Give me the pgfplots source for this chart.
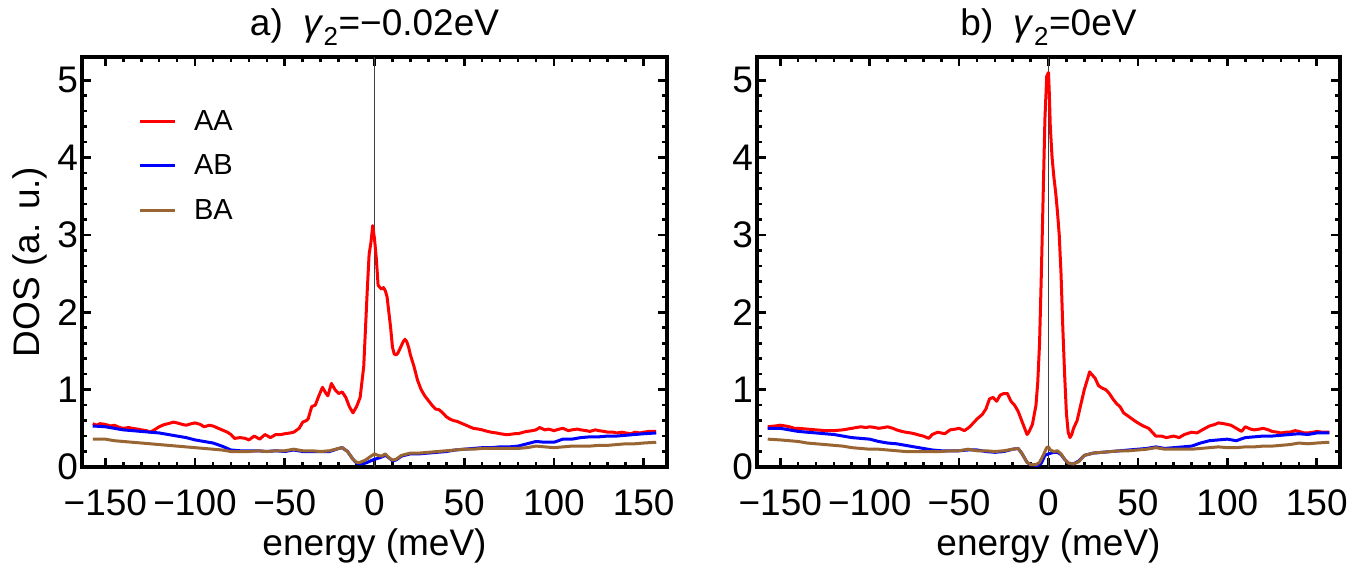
\documentclass[border=0pt]{standalone}
\usepackage{fontspec}
\setmainfont{Liberation Sans}
\usepackage{pgfplots}
\pgfplotsset{compat=1.18}
\definecolor{mbrown}{rgb}{0.6,0.4,0.2}
\newcommand{\tfont}{\fontsize{37}{40}\selectfont}
\begin{document}
\begin{tikzpicture}
\useasboundingbox (0,0) rectangle (1350pt,573pt);
\pgfplotsset{
  dosaxis/.style={
    scale only axis, height=410pt,
    xmin=-163, xmax=163, ymin=0, ymax=5.3,
    line width=3.2pt,
    xtick={-150,-100,...,150},
    xticklabels={−150,−100,−50,0,50,100,150},
    ytick={0,1,2,3,4,5},
    yticklabels={0,1,2,3,4,5},
    minor x tick num=4, minor y tick num=4,
    tick align=inside,
    major tick length=9pt, minor tick length=5pt,
    every tick/.append style={black, line width=2.8pt},
    major tick style={black, line width=2.8pt},
    minor tick style={black, line width=2.6pt},
    axis line style={line width=3.2pt},
    every outer x axis line/.append style={line width=3.2pt},
    every outer y axis line/.append style={line width=3.2pt},
    tick label style={font=\tfont},
    xticklabel style={yshift=-18pt},
    yticklabel style={xshift=1pt},
    label style={font=\tfont},
    title style={font=\tfont},
    every axis title/.style={at={(axis description cs:0.5,1)}, anchor=center, yshift=30pt, font=\tfont},
    every axis x label/.style={at={(axis description cs:0.5,0)}, anchor=center, yshift=-79pt, font=\tfont},
    every axis y label/.style={at={(axis description cs:-0.0889,0.5)}, rotate=90, anchor=center, font=\tfont},
    extra x ticks={0}, extra x tick labels={},
    extra x tick style={grid=major, major grid style={black!75, line width=0.9pt}, major tick length=0pt},
    every axis plot/.append style={line width=3pt, line join=round},
    legend image code/.code={\draw[#1, line width=2.6pt] (0pt,0pt) -- (35pt,0pt);},
  }
}
% ---------------- panel a ----------------
\begin{axis}[dosaxis, width=585pt, at={(82pt,106pt)}, anchor=south west,
  title={a)\ \ \textit{γ}\textsubscript{2}=−0.02eV},
  xlabel={energy (meV)}, ylabel={DOS (a. u.)},
  legend cell align=left,
  legend style={draw=none, fill=none, at={(0.0886,0.883)}, anchor=north west,
    font=\fontsize{29}{31}\selectfont, row sep=19pt,
    /tikz/every odd column/.append style={column sep=16pt}},
]
\addplot[red] coordinates {
(-157,0.56) (-155,0.54) (-153,0.56) (-150,0.55) (-147,0.53) (-145,0.54) (-142,0.51) (-140,0.50) (-137,0.51) (-135,0.50) (-132,0.49) (-130,0.48) (-127,0.47) (-125,0.45)
(-122,0.49) (-120,0.52) (-117,0.55) (-115,0.56) (-112,0.58) (-110,0.57) (-107,0.55) (-105,0.54) (-102,0.56) (-100,0.57) (-97,0.55) (-95,0.52)
(-92,0.54) (-90,0.53) (-87,0.50) (-85,0.48) (-82,0.45) (-80,0.42) (-78,0.37) (-75,0.38) (-72,0.37) (-70,0.35) (-67,0.40) (-64,0.36) (-61,0.42)
(-58,0.38) (-55,0.42) (-52,0.42) (-50,0.43) (-47,0.44) (-45,0.45) (-42,0.50) (-40,0.58) (-38,0.60) (-37,0.62) (-35,0.78) (-33,0.80) (-31,0.92)
(-29,1.03) (-27,0.95) (-26,0.92) (-24,1.08) (-22,1.00) (-20,0.95) (-18,0.97) (-16,0.90) (-14,0.78) (-12,0.70) (-10,0.78) (-8,0.90)
(-7,1.10) (-6,1.30) (-5,1.80) (-4,2.30) (-3,2.75) (-2,2.90) (-1,3.12) (0,2.95) (1,2.70) (2,2.35) (3,2.32) (4,2.30) (5,2.32) (6,2.28)
(7,2.20) (8,2.00) (9,1.80) (10,1.55) (11,1.46) (12,1.45) (13,1.47) (14,1.52) (16,1.62) (17,1.65) (18,1.62) (19,1.55) (20,1.45)
(22,1.30) (24,1.12) (26,1.00) (28,0.92) (30,0.86) (32,0.80) (34,0.75) (36,0.74) (38,0.70) (40,0.65) (42,0.62) (44,0.60) (46,0.59)
(48,0.57) (50,0.55) (53,0.52) (55,0.50) (58,0.49) (60,0.48) (63,0.46) (65,0.45) (68,0.44) (70,0.43) (73,0.42) (75,0.42) (78,0.43) (80,0.43)
(83,0.45) (85,0.46) (88,0.47) (90,0.48) (92,0.51) (95,0.48) (97,0.49) (100,0.47) (103,0.49) (105,0.50) (108,0.47) (110,0.48) (113,0.49)
(115,0.48) (118,0.47) (120,0.46) (123,0.48) (125,0.47) (128,0.46) (130,0.45) (133,0.45) (135,0.44) (138,0.45) (140,0.44) (143,0.43)
(145,0.45) (148,0.44) (150,0.45) (153,0.46) (157,0.46)
};
\addlegendentry{AA}
\addplot[blue] coordinates {
(-157,0.53) (-150,0.52) (-145,0.50) (-140,0.48) (-135,0.47) (-130,0.46) (-125,0.45) (-120,0.44) (-115,0.42) (-110,0.40) (-105,0.38)
(-100,0.35) (-95,0.33) (-90,0.31) (-85,0.27) (-80,0.22) (-75,0.21) (-70,0.21) (-65,0.21) (-60,0.20) (-55,0.21) (-50,0.20) (-45,0.22)
(-40,0.20) (-35,0.20) (-30,0.20) (-25,0.20) (-20,0.24) (-18,0.25) (-15,0.20) (-12,0.10) (-10,0.05) (-8,0.04) (-5,0.05) (-2,0.08)
(0,0.10) (3,0.12) (6,0.15) (8,0.12) (10,0.08) (12,0.09) (15,0.14) (20,0.17) (25,0.17) (30,0.18) (35,0.19) (40,0.20) (45,0.22) (50,0.23)
(55,0.24) (60,0.25) (65,0.25) (70,0.26) (75,0.26) (80,0.27) (85,0.30) (90,0.33) (95,0.32) (100,0.32) (105,0.36) (110,0.36) (115,0.38)
(120,0.39) (125,0.39) (130,0.40) (135,0.40) (140,0.41) (145,0.42) (150,0.43) (157,0.44)
};
\addlegendentry{AB}
\addplot[mbrown] coordinates {
(-157,0.36) (-150,0.36) (-145,0.34) (-140,0.33) (-135,0.32) (-130,0.31) (-125,0.30) (-120,0.29) (-115,0.28) (-110,0.27) (-105,0.26)
(-100,0.25) (-95,0.24) (-90,0.23) (-85,0.22) (-80,0.20) (-75,0.20) (-70,0.20) (-65,0.21) (-60,0.20) (-55,0.21) (-50,0.21) (-45,0.23)
(-40,0.21) (-35,0.21) (-30,0.20) (-25,0.21) (-20,0.24) (-18,0.25) (-15,0.20) (-12,0.10) (-10,0.06) (-8,0.06) (-5,0.09) (-2,0.14)
(0,0.17) (2,0.15) (4,0.14) (6,0.17) (8,0.12) (10,0.09) (12,0.10) (15,0.15) (20,0.18) (25,0.18) (30,0.19) (35,0.20) (40,0.21) (45,0.22)
(50,0.23) (55,0.23) (60,0.24) (65,0.24) (70,0.24) (75,0.24) (80,0.24) (85,0.25) (90,0.27) (95,0.26) (100,0.25) (105,0.26) (110,0.27)
(115,0.27) (120,0.27) (125,0.28) (130,0.28) (135,0.29) (140,0.30) (145,0.30) (150,0.31) (157,0.32)
};
\addlegendentry{BA}
\end{axis}
% ---------------- panel b ----------------
\begin{axis}[dosaxis, width=583pt, at={(757pt,106pt)}, anchor=south west,
  title={b)\ \ \textit{γ}\textsubscript{2}=0eV},
  xlabel={energy (meV)},
]
\addplot[red] coordinates {
(-157,0.52) (-153,0.53) (-150,0.54) (-147,0.53) (-145,0.52) (-142,0.50) (-140,0.50) (-135,0.49) (-130,0.48) (-125,0.47) (-120,0.47)
(-115,0.48) (-110,0.50) (-105,0.52) (-102,0.51) (-100,0.52) (-97,0.51) (-95,0.50) (-92,0.51) (-90,0.52) (-87,0.50) (-85,0.48) (-82,0.46)
(-80,0.45) (-77,0.44) (-75,0.43) (-72,0.41) (-70,0.40) (-67,0.37) (-65,0.42) (-62,0.45) (-58,0.43) (-55,0.48) (-52,0.49) (-50,0.50)
(-47,0.47) (-44,0.52) (-42,0.57) (-40,0.62) (-37,0.68) (-35,0.75) (-33,0.88) (-31,0.90) (-29,0.85) (-27,0.93) (-25,0.95) (-23,0.95)
(-21,0.85) (-19,0.80) (-17,0.72) (-15,0.60) (-13,0.48) (-12,0.42) (-11,0.45) (-9,0.55) (-7,0.80) (-6,1.10) (-5,1.60) (-4,2.50)
(-3,3.50) (-2,4.50) (-1,5.05) (0,5.10) (0.5,4.80) (1,4.40) (2,4.00) (3,3.75) (4,3.55) (5,3.30) (6,3.00) (7,2.50) (8,1.80) (9,1.20)
(10,0.70) (11,0.45) (12,0.38) (13,0.42) (14,0.50) (16,0.60) (18,0.80) (20,1.00) (22,1.15) (23,1.23) (24,1.20) (26,1.15) (28,1.05)
(30,1.02) (32,1.00) (34,0.95) (36,0.88) (38,0.82) (40,0.78) (42,0.70) (45,0.65) (48,0.60) (50,0.57) (53,0.53) (56,0.50) (58,0.45)
(60,0.40) (63,0.40) (66,0.38) (70,0.40) (73,0.38) (76,0.42) (80,0.45) (83,0.44) (86,0.48) (90,0.53) (93,0.55) (95,0.57) (98,0.56)
(100,0.55) (102,0.54) (105,0.50) (108,0.46) (110,0.52) (113,0.49) (115,0.48) (118,0.49) (120,0.50) (123,0.48) (125,0.46) (128,0.45)
(130,0.44) (133,0.45) (135,0.45) (138,0.47) (140,0.46) (143,0.44) (145,0.44) (148,0.45) (150,0.46) (153,0.45) (157,0.45)
};
\addplot[blue] coordinates {
(-157,0.50) (-150,0.50) (-145,0.48) (-140,0.46) (-135,0.45) (-130,0.44) (-125,0.43) (-120,0.42) (-115,0.40) (-110,0.38) (-105,0.37)
(-100,0.36) (-95,0.33) (-90,0.31) (-85,0.30) (-80,0.28) (-75,0.26) (-70,0.24) (-65,0.22) (-60,0.21) (-55,0.21) (-50,0.21) (-45,0.22)
(-40,0.22) (-35,0.20) (-30,0.19) (-25,0.20) (-20,0.23) (-17,0.24) (-15,0.18) (-12,0.06) (-10,0.03) (-6,0.02) (-4,0.05) (-2,0.15)
(0,0.17) (3,0.19) (5,0.19) (7,0.16) (9,0.10) (11,0.05) (14,0.04) (17,0.08) (20,0.15) (25,0.18) (30,0.19) (35,0.20) (40,0.21)
(45,0.22) (50,0.23) (55,0.24) (60,0.26) (65,0.24) (70,0.25) (75,0.26) (80,0.27) (85,0.31) (90,0.34) (95,0.35) (100,0.36) (105,0.34)
(110,0.38) (115,0.39) (120,0.40) (125,0.40) (130,0.41) (135,0.42) (140,0.43) (145,0.42) (150,0.44) (157,0.44)
};
\addplot[mbrown] coordinates {
(-157,0.36) (-150,0.35) (-145,0.34) (-140,0.33) (-135,0.31) (-130,0.30) (-125,0.29) (-120,0.28) (-115,0.27) (-110,0.25) (-105,0.24)
(-100,0.23) (-95,0.23) (-90,0.22) (-85,0.21) (-80,0.20) (-75,0.20) (-70,0.20) (-65,0.20) (-60,0.20) (-55,0.21) (-50,0.21) (-45,0.23)
(-40,0.21) (-35,0.21) (-30,0.20) (-25,0.21) (-20,0.23) (-17,0.24) (-15,0.18) (-12,0.06) (-10,0.03) (-7,0.03) (-5,0.06) (-3,0.15)
(-1,0.25) (0,0.26) (1,0.22) (3,0.20) (5,0.21) (7,0.17) (9,0.10) (11,0.05) (14,0.04) (17,0.07) (20,0.15) (25,0.18) (30,0.19) (35,0.20)
(40,0.21) (45,0.21) (50,0.22) (55,0.23) (60,0.25) (65,0.23) (70,0.23) (75,0.23) (80,0.23) (85,0.24) (90,0.25) (95,0.26) (100,0.25)
(105,0.25) (110,0.26) (115,0.26) (120,0.27) (125,0.27) (130,0.28) (135,0.29) (140,0.31) (145,0.30) (150,0.31) (157,0.32)
};
\end{axis}
\end{tikzpicture}
\end{document}
